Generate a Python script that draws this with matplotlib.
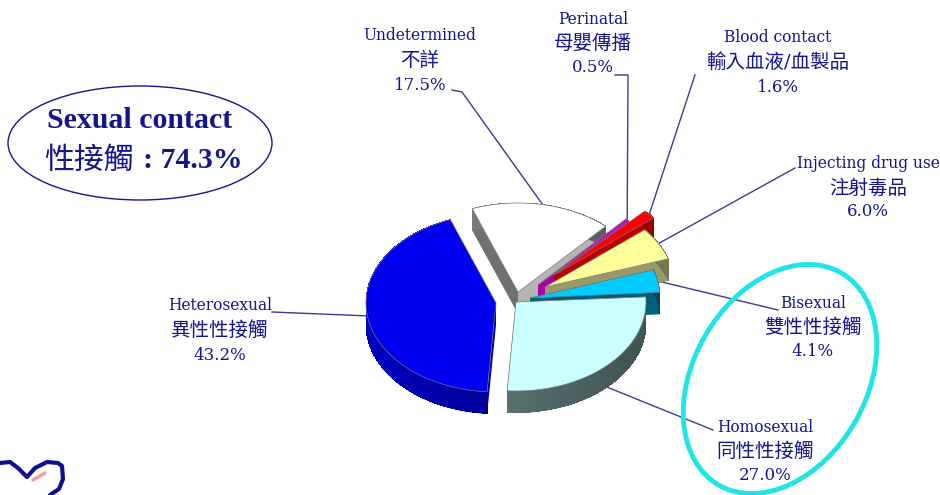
"""HIV exposure category pie, drawn as a tilted 3D pie in pixel space"""
import numpy as np
import matplotlib
matplotlib.use("Agg")
import matplotlib.pyplot as plt
from matplotlib.colors import to_rgb
from matplotlib.patches import Ellipse, Polygon

plt.rcParams['font.family'] = ['DejaVu Serif', 'Noto Sans CJK TC', 'DejaVu Sans']

# slices clockwise, starting with Homosexual
names_en = ["Homosexual", "Heterosexual", "Undetermined", "Perinatal",
            "Blood contact", "Injecting drug use", "Bisexual"]
names_zh = ["同性性接觸", "異性性接觸", "不詳", "母嬰傳播",
            "輸入血液/血製品", "注射毒品", "雙性性接觸"]
values = [27.0, 43.2, 17.5, 0.5, 1.6, 6.0, 4.1]

# styling per slice
top_colors = ["#ccffff", "#0000f0", "#ffffff", "#cc00cc", "#ff0000", "#ffff99", "#00ccff"]
wall_colors = ["#566e6e", "#000098", "#707070", "#990099", "#bb0000", "#99996a", "#00607a"]
edge_light = ["#566e6e", "#000090", "#b4b4b4", "#aa00aa", "#bb0000", "#99996a", "#00607a"]
centers = [(516, 302), (496, 303), (518, 292), (538, 285), (554, 275), (545, 287), (530, 298)]
draw_order = [2, 3, 4, 5, 6, 1, 0]

# label centre x, first line y, leader elbow
label_pos = [(765, 427), (220, 306), (420, 36), (593, 19), (778, 38), (868, 163), (813, 303)]
elbows = [[(713, 430)], [(272, 312)], [(462, 92), (452, 90)], [(628, 75), (615, 75)],
          [(695, 75)], [(795, 168)], [(778, 310)]]

NAVY = "#14148c"
LINE = "#3a3a9a"
RX, RY, DEPTH = 130, 89, 22
START = 3.3

fig = plt.figure(figsize=(9.4, 4.95), dpi=100)
ax = fig.add_axes([0, 0, 1, 1])
ax.set_xlim(0, 940)
ax.set_ylim(495, 0)
ax.axis("off")


def rim(c, deg):
    a = np.radians(deg)
    return np.column_stack([c[0] + RX * np.cos(a), c[1] - RY * np.sin(a)])


# cumulative angles come from the values
ends = START - np.cumsum(values) * 3.6
starts = np.r_[START, ends[:-1]]

for i in draw_order:
    c = centers[i]
    z = 2 + draw_order.index(i)
    degs = np.linspace(starts[i], ends[i], 80)
    arc = rim(c, degs)
    apex = np.array(c, dtype=float)
    # radial walls
    for p, col in ((arc[0], wall_colors[i]), (arc[-1], edge_light[i])):
        wall = [apex, p, p + [0, DEPTH], apex + [0, DEPTH]]
        ax.add_patch(Polygon(wall, fc=col, ec="none", zorder=z))
    # curved wall, a bit lighter to the left
    base = np.array(to_rgb(wall_colors[i]))
    ax.add_patch(Polygon(np.vstack([arc, arc[::-1] + [0, DEPTH]]), fc=base, ec="none", zorder=z))
    for k in range(len(arc) - 1):
        shade = np.clip(base * (1 - 0.25 * np.cos(np.radians(degs[k]))), 0, 1)
        quad = [arc[k], arc[k + 1], arc[k + 1] + [0, DEPTH - 0.5], arc[k] + [0, DEPTH - 0.5]]
        ax.add_patch(Polygon(quad, fc=shade, ec="none", antialiased=False, zorder=z))
    ax.add_patch(Polygon(np.vstack([apex, arc]), fc=top_colors[i], ec="#777777", lw=0.5, zorder=z))

# leaders and labels
for i in range(len(values)):
    mid = (starts[i] + ends[i]) / 2
    p = rim(centers[i], [mid])[0]
    if np.sin(np.radians(mid)) < -0.5:
        p = p + [0, DEPTH]
    pts = [tuple(p)] + elbows[i]
    ax.plot(*zip(*pts), color=LINE, lw=1, zorder=1)
    x, y = label_pos[i]
    ax.text(x, y, names_en[i], ha="center", va="center", fontsize=11.2, color=NAVY)
    ax.text(x, y + 25, names_zh[i], ha="center", va="center", fontsize=14, color=NAVY)
    ax.text(x, y + 49, f"{values[i]:.1f}%", ha="center", va="center", fontsize=12, color=NAVY)

# sexual contact callout
sexual_total = values[0] + values[1] + values[6]
ax.add_patch(Ellipse((140, 143), 264, 114, fc="none", ec=NAVY, lw=1))
ax.text(140, 120, "Sexual contact", ha="center", va="center", fontsize=21.5, fontweight="bold",
        color=NAVY, family=['Liberation Serif'])
ax.text(44, 160, "性接觸", ha="left", va="center", fontsize=21.5, color=NAVY, family=['Noto Sans CJK TC'])
ax.text(143, 161, f": {sexual_total:.1f}%", ha="left", va="center", fontsize=21.5, fontweight="bold",
        color=NAVY, family=['Liberation Serif'])

ax.add_patch(Ellipse((780, 379), 173, 245, angle=30, fc="none", ec="#1fe6e6", lw=3.5, zorder=20))

# logo corner
heart_x = [0, 10, 18, 27, 35, 47, 58, 62, 63, 59, 50]
heart_y = [463, 462, 468, 477, 468, 462, 463, 466, 479, 489, 495]
ax.plot(heart_x, heart_y, color="#10108c", lw=3, solid_capstyle="round", solid_joinstyle="round")
ax.plot([33, 45], [480, 473], color="#f4a0a0", lw=2.5, solid_capstyle="round")

fig.savefig("out.png", dpi=100)
